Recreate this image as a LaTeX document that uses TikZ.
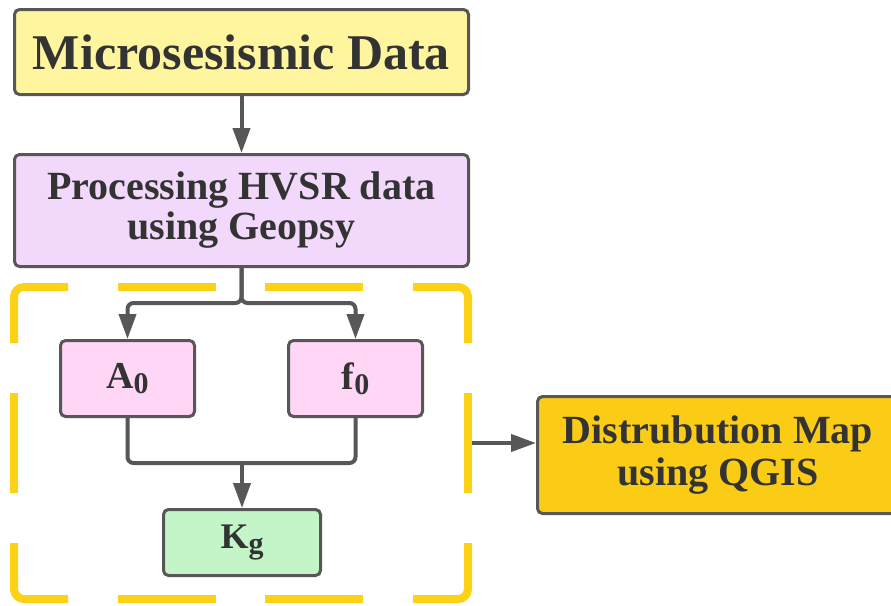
\documentclass[tikz,border=0pt]{standalone}
\usepackage{fontspec}
\setmainfont{Liberation Serif}
\usetikzlibrary{arrows.meta}
\definecolor{edgegray}{HTML}{575757}
\definecolor{txtgray}{HTML}{333333}
\definecolor{fillyellow}{HTML}{FFF59F}
\definecolor{filllav}{HTML}{F2D9FB}
\definecolor{fillpink}{HTML}{FFD6F6}
\definecolor{fillgreen}{HTML}{C3F5C9}
\definecolor{fillgold}{HTML}{FACC15}
\definecolor{framegold}{HTML}{FCD116}
\newcommand{\mysub}[1]{\raisebox{-5pt}{\fontsize{30}{30}\selectfont #1}}
\tikzset{
  box/.style={draw=edgegray, line width=3pt, rounded corners=5pt, text=txtgray,
    inner sep=0pt, align=center, font=\bfseries},
  conn/.style={draw=edgegray, line width=4pt, rounded corners=6pt,
    -{Triangle[length=25pt,width=17pt]}},
  link/.style={draw=edgegray, line width=4pt, rounded corners=6pt},
  framedash/.style={draw=framegold, line width=8pt, rounded corners=10pt}
}
\begin{document}
\begin{tikzpicture}[x=1pt,y=-1pt]
\useasboundingbox (0,0) rectangle (891,605);
\clip (0,0) rectangle (891,605);
\fill[white] (0,0) rectangle (891,605);

% dashed group frame
\draw[framedash] (14,343) |- (68,287);
\draw[framedash] (413,287) -| (468,343);
\draw[framedash] (14,543) |- (68,599);
\draw[framedash] (413,599) -| (468,543);
\draw[framedash] (118,287) -- (216,287);
\draw[framedash] (265,287) -- (363,287);
\draw[framedash] (118,599) -- (216,599);
\draw[framedash] (265,599) -- (363,599);
\draw[framedash] (14,393) -- (14,493);
\draw[framedash] (468,393) -- (468,493);
\node[inner sep=0pt, minimum width=462pt, minimum height=320pt] (grp) at (241,443) {};

% boxes
\node[box, fill=fillyellow, minimum width=454pt, minimum height=85pt,
  font=\bfseries\fontsize{50}{52}\selectfont] (md) at (241.5,52) {Microsesismic Data};
\node[box, fill=filllav, minimum width=454pt, minimum height=112pt,
  font=\bfseries\fontsize{40}{40}\selectfont] (hv) at (241.5,210.5) {Processing HVSR data\\using Geopsy};
\node[box, fill=fillpink, minimum width=134pt, minimum height=76pt,
  font=\bfseries\fontsize{38}{38}\selectfont] (a0) at (127.5,378.5) {A\mysub{0}};
\node[box, fill=fillpink, minimum width=134pt, minimum height=76pt,
  font=\bfseries\fontsize{38}{38}\selectfont] (f0) at (355.5,378.5) {f\mysub{0}};
\node[box, fill=fillgreen, minimum width=157pt, minimum height=66pt,
  font=\bfseries\fontsize{36}{36}\selectfont] (kg) at (242,542.5) {K\mysub{g}};
\node[box, fill=fillgold, minimum width=361pt, minimum height=117pt,
  font=\bfseries\fontsize{40}{42}\selectfont] (dm) at (718,455) {Distrubution Map\\using QGIS};

% connectors
\coordinate (split) at (241.5,303);
\coordinate (merge) at (242,463);
\draw[conn] (md) -- (hv);
\draw[conn] (hv.south) -- (split) -| (a0.north);
\draw[conn] (hv.south) -- (split) -| (f0.north);
\draw[link] (a0.south) |- (merge);
\draw[link] (f0.south) |- (merge);
\draw[conn] (merge) -- (kg.north);
\draw[conn] (grp.east) -- (grp.east -| dm.west);
\end{tikzpicture}
\end{document}
